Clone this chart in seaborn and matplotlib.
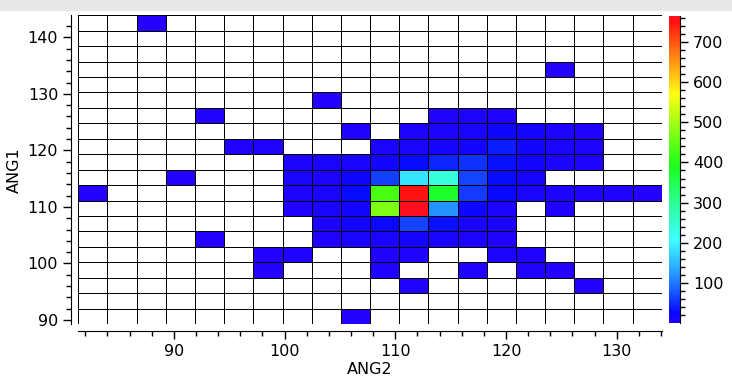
import numpy as np
import pandas as pd
import matplotlib
matplotlib.use("Agg")
import matplotlib.pyplot as plt
import matplotlib.colors as mcolors
from matplotlib.patches import Rectangle
from matplotlib.ticker import MultipleLocator
import seaborn as sns

# bin ranges (20 x 20 bins)
ang2_range = (81.37, 134.06)
ang1_range = (89.29, 143.89)
n_bins = 20

# counts per cell, top row (highest ANG1) first, columns from low ANG2 to high
counts = [
    [0, 0, 3, 0, 0, 0, 0, 0, 0, 0, 0, 0, 0, 0, 0, 0, 0, 0, 0, 0],
    [0, 0, 0, 0, 0, 0, 0, 0, 0, 0, 0, 0, 0, 0, 0, 0, 0, 0, 0, 0],
    [0, 0, 0, 0, 0, 0, 0, 0, 0, 0, 0, 0, 0, 0, 0, 0, 0, 0, 0, 0],
    [0, 0, 0, 0, 0, 0, 0, 0, 0, 0, 0, 0, 0, 0, 0, 0, 2, 0, 0, 0],
    [0, 0, 0, 0, 0, 0, 0, 0, 0, 0, 0, 0, 0, 0, 0, 0, 0, 0, 0, 0],
    [0, 0, 0, 0, 0, 0, 0, 0, 3, 0, 0, 0, 0, 0, 0, 0, 0, 0, 0, 0],
    [0, 0, 0, 0, 4, 0, 0, 0, 0, 0, 0, 0, 6, 8, 5, 0, 0, 0, 0, 0],
    [0, 0, 0, 0, 0, 0, 0, 0, 0, 5, 0, 7, 9, 12, 20, 15, 8, 6, 0, 0],
    [0, 0, 0, 0, 0, 6, 4, 0, 0, 0, 10, 12, 15, 16, 40, 16, 10, 8, 0, 0],
    [0, 0, 0, 0, 0, 0, 0, 8, 10, 12, 16, 30, 45, 52, 32, 16, 10, 8, 0, 0],
    [0, 0, 0, 3, 0, 0, 0, 10, 8, 20, 62, 185, 240, 66, 30, 14, 0, 0, 0, 0],
    [2, 0, 0, 0, 0, 0, 0, 8, 12, 28, 430, 750, 380, 60, 25, 10, 8, 6, 4, 3],
    [0, 0, 0, 0, 0, 0, 0, 6, 10, 18, 470, 762, 120, 24, 8, 0, 4, 0, 0, 0],
    [0, 0, 0, 0, 0, 0, 0, 0, 8, 16, 25, 66, 32, 10, 10, 0, 0, 0, 0, 0],
    [0, 0, 0, 0, 3, 0, 0, 0, 6, 10, 12, 15, 10, 8, 6, 0, 0, 0, 0, 0],
    [0, 0, 0, 0, 0, 0, 3, 4, 0, 0, 6, 5, 0, 0, 8, 5, 0, 0, 0, 0],
    [0, 0, 0, 0, 0, 0, 3, 0, 0, 0, 6, 0, 0, 5, 0, 4, 3, 0, 0, 0],
    [0, 0, 0, 0, 0, 0, 0, 0, 0, 0, 0, 5, 0, 0, 0, 0, 0, 3, 0, 0],
    [0, 0, 0, 0, 0, 0, 0, 0, 0, 0, 0, 0, 0, 0, 0, 0, 0, 0, 0, 0],
    [0, 0, 0, 0, 0, 0, 0, 0, 0, 2, 0, 0, 0, 0, 0, 0, 0, 0, 0, 0],
]

# bin centres -> long table with weights
x_edges = np.linspace(ang2_range[0], ang2_range[1], n_bins + 1)
y_edges = np.linspace(ang1_range[0], ang1_range[1], n_bins + 1)
x_mid = (x_edges[:-1] + x_edges[1:]) / 2
y_mid = ((y_edges[:-1] + y_edges[1:]) / 2)[::-1]
xx, yy = np.meshgrid(x_mid, y_mid)
df = pd.DataFrame({"ANG2": xx.ravel(), "ANG1": yy.ravel(),
                   "count": np.array(counts).ravel()})

# rainbow blue -> red (hue sweep, slightly past red at the top)
hues = np.linspace(0.69, -0.012, 256)
sats = np.interp(hues, [-0.02, 0.3, 0.5, 0.6, 0.69], [0.94, 0.92, 0.76, 0.88, 1.0])
rgb = mcolors.hsv_to_rgb(np.column_stack([hues % 1.0, sats, np.ones(256)]))
cmap = mcolors.ListedColormap(rgb)
cmap.set_under("white")

sns.set_style("ticks")
plt.rcParams["font.family"] = ["DejaVu Sans"]
plt.rcParams["font.size"] = 11.5

fig = plt.figure(figsize=(7.32, 3.83), dpi=100)
fig.patches.append(Rectangle((0, 1 - 10 / 383), 1, 10 / 383, transform=fig.transFigure,
                             color="#e8e8e8", zorder=0))
ax = fig.add_axes([0.107, 0.154, 0.797, 0.806])
cax = fig.add_axes([0.914, 0.157, 0.015, 0.802])

sns.histplot(data=df, x="ANG2", y="ANG1", weights="count", bins=n_bins,
             binrange=(ang2_range, ang1_range), thresh=None, cmap=cmap,
             vmin=1, vmax=765, edgecolors="black", linewidth=0.7,
             antialiased=False, cbar=True, cbar_ax=cax, ax=ax)

ax.set_xlim(*ang2_range)
ax.set_ylim(*ang1_range)
ax.xaxis.set_major_locator(MultipleLocator(10))
ax.xaxis.set_minor_locator(MultipleLocator(2))
ax.yaxis.set_major_locator(MultipleLocator(10))
ax.yaxis.set_minor_locator(MultipleLocator(2))
ax.tick_params(which="major", length=6, width=1, labelsize=11.5, colors="black")
ax.tick_params(which="minor", length=3.5, width=1, colors="black")
ax.set_xlabel("ANG2", fontsize=11.5, labelpad=2, color="black")
ax.set_ylabel("ANG1", fontsize=11.5, labelpad=4, color="black")
for sp in ax.spines.values():
    sp.set_color("black")
sns.despine(ax=ax, offset=5)

cax.yaxis.set_major_locator(MultipleLocator(100))
cax.yaxis.set_minor_locator(MultipleLocator(20))
cax.tick_params(which="major", length=6, width=1, labelsize=11.5, colors="black")
cax.tick_params(which="minor", length=3.5, width=1, colors="black")
cax.set_ylim(1, 765)
for sp in cax.spines.values():
    sp.set_visible(False)
cax.spines["right"].set_visible(True)
cax.spines["right"].set_color("black")

fig.savefig("out.png", dpi=100)
